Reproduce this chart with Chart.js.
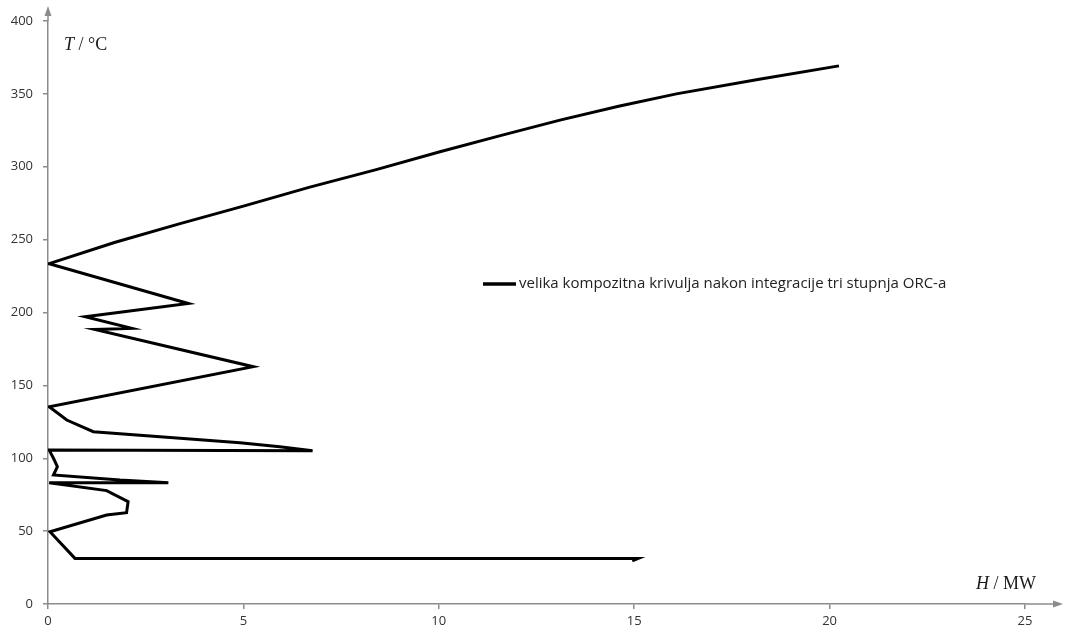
<!DOCTYPE html>
<html>
<head>
<meta charset="utf-8">
<script src="https://cdn.jsdelivr.net/npm/chart.js@4.4.1/dist/chart.umd.min.js"></script>
<style>
  html, body { margin: 0; padding: 0; background: #fff; }
  #wrap { width: 1066px; height: 636px; position: relative; }
</style>
</head>
<body>
<div id="wrap"><canvas id="gcc"></canvas></div>
<script>
// grand composite curve (H in MW, T in degC)
const heatFlow = [
  20.24, 18.2, 16.08, 14.6, 13.1, 11.6, 10.03, 8.4, 6.7, 5.0, 3.38, 1.7, 0.03,
  3.59, 0.95, 2.14, 1.2, 5.25, 0.03,
  0.48, 1.16, 3.38, 4.91, 5.93, 6.77, 0.03,
  0.14, 0.24, 0.14, 1.84, 3.08, 0.03,
  1.5, 2.05, 2.01, 1.5, 0.05, 0.69, 15.1, 14.95
];
const temperature = [
  369.2, 360, 350, 341.5, 332, 321.5, 310.3, 298, 286, 273, 261, 248, 233.5,
  206.2, 197.1, 189.1, 188.4, 162.8, 135.3,
  126.2, 118.2, 113.7, 110.7, 107.9, 105.2, 105.6,
  100, 94.2, 88.5, 85, 83.2, 83.2,
  77.8, 70.2, 62.6, 61, 49.6, 31.3, 31.3, 29.6
];
const xTicks = [0, 5, 10, 15, 20, 25];
const yTicks = [0, 50, 100, 150, 200, 250, 300, 350, 400];
const seriesLabel = "velika kompozitna krivulja nakon integracije tri stupnja ORC-a";

const axisColor = "#8f8a86";
const points = heatFlow.map((h, i) => ({ x: h, y: temperature[i] }));

// axis arrows, axis titles and the legend drawn on top
const extras = {
  id: "extras",
  afterDraw(chart) {
    const c = chart.ctx;
    const a = chart.chartArea;
    c.save();
    c.strokeStyle = axisColor;
    c.fillStyle = axisColor;
    c.lineWidth = 1.5;
    // y axis extension + arrow
    c.beginPath();
    c.moveTo(a.left, a.top);
    c.lineTo(a.left, 12);
    c.stroke();
    c.beginPath();
    c.moveTo(a.left, 6);
    c.lineTo(a.left - 3.5, 16);
    c.lineTo(a.left + 3.5, 16);
    c.closePath();
    c.fill();
    // x axis extension + arrow
    c.beginPath();
    c.moveTo(a.right, a.bottom);
    c.lineTo(1056, a.bottom);
    c.stroke();
    c.beginPath();
    c.moveTo(1063, a.bottom);
    c.lineTo(1053, a.bottom - 3.5);
    c.lineTo(1053, a.bottom + 3.5);
    c.closePath();
    c.fill();

    // axis titles
    c.fillStyle = "#1a1a1a";
    c.textBaseline = "alphabetic";
    c.textAlign = "left";
    c.font = "italic 18px 'Liberation Serif'";
    c.fillText("T", 64, 50);
    let w = c.measureText("T ").width;
    c.font = "18px 'Liberation Serif'";
    c.fillText("/ °C", 64 + w, 50);
    c.font = "italic 18px 'Liberation Serif'";
    c.fillText("H", 976, 589);
    w = c.measureText("H ").width;
    c.font = "18px 'Liberation Serif'";
    c.fillText("/ MW", 976 + w, 589);

    // legend
    c.strokeStyle = "#000";
    c.lineWidth = 3.5;
    c.beginPath();
    c.moveTo(483, 284);
    c.lineTo(516, 284);
    c.stroke();
    c.fillStyle = "#222";
    c.font = "15px 'Open Sans'";
    c.textBaseline = "middle";
    c.fillText(seriesLabel, 519, 284);
    c.restore();
  }
};

new Chart(document.getElementById("gcc"), {
  type: "scatter",
  data: {
    datasets: [{
      label: seriesLabel,
      data: points,
      showLine: true,
      borderColor: "#000",
      borderWidth: 3,
      pointRadius: 0,
      tension: 0,
      fill: false
    }]
  },
  options: {
    responsive: true,
    maintainAspectRatio: false,
    animation: false,
    layout: { padding: { top: 21, right: 41, left: 0, bottom: 0 } },
    plugins: { legend: { display: false }, tooltip: { enabled: false } },
    scales: {
      x: {
        type: "linear",
        min: 0, max: 25,
        afterBuildTicks: (s) => { s.ticks = xTicks.map(v => ({ value: v })); },
        afterFit: (s) => { s.height = 32; },
        border: { color: axisColor, width: 1.5 },
        grid: { drawOnChartArea: false, drawTicks: true, tickLength: 5, color: axisColor, lineWidth: 1.5 },
        ticks: { color: "#333", font: { family: "Open Sans", size: 13 }, padding: 4, maxRotation: 0 }
      },
      y: {
        type: "linear",
        min: 0, max: 400,
        afterBuildTicks: (s) => { s.ticks = yTicks.map(v => ({ value: v })); },
        afterFit: (s) => { s.width = 48; },
        border: { color: axisColor, width: 1.5 },
        grid: { drawOnChartArea: false, drawTicks: true, tickLength: 5, color: axisColor, lineWidth: 1.5 },
        ticks: { color: "#333", font: { family: "Open Sans", size: 13 }, padding: 10 }
      }
    }
  },
  plugins: [extras]
});
</script>
</body>
</html>
